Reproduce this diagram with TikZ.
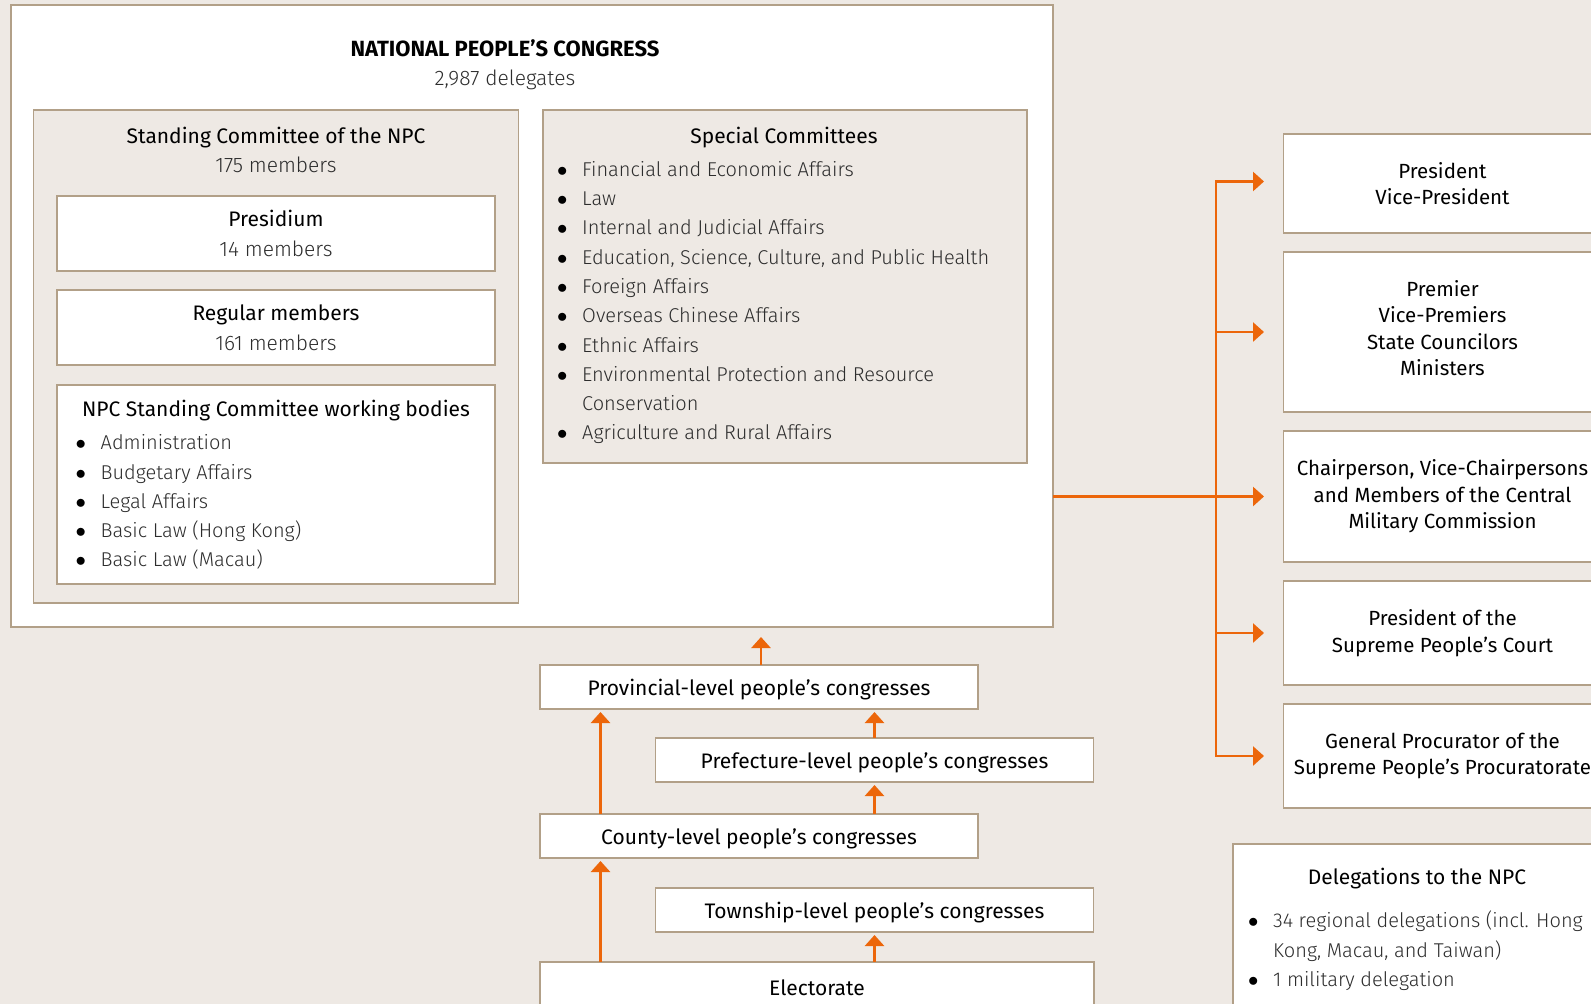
\documentclass[tikz,border=0pt]{standalone}
\usepackage{fontspec}
\setmainfont{Fira Sans}
\newfontfamily\lightfont{Fira Sans Light}
\usetikzlibrary{arrows.meta,positioning,calc}
\definecolor{pagebg}{RGB}{238,233,228}
\definecolor{boxline}{RGB}{178,160,136}
\definecolor{npcorange}{RGB}{236,102,10}
\definecolor{subgray}{RGB}{45,45,45}
\newcommand{\npcbul}{\makebox[25pt][l]{\color{black}$\bullet$}}
\newcommand{\npcind}{\hspace*{25pt}}

\begin{document}
\begin{tikzpicture}[
    x=1pt, y=-1pt,
    box/.style={rectangle, draw=boxline, line width=1.4pt, fill=white, inner sep=0pt, outer sep=0pt, anchor=north west, align=center, font=\fontsize{21}{26.5}\selectfont},
    panel/.style={box, fill=pagebg},
    lvl/.style={box, minimum width=438pt, minimum height=44pt, text height=17pt, text depth=0pt},
    rbox/.style={box, minimum width=318pt, font=\fontsize{20.5}{26.5}\selectfont},
    head/.style={font=\fontsize{21}{26}\selectfont, inner sep=0pt, anchor=base},
    sub/.style={font=\fontsize{21}{26}\selectfont\lightfont, text=subgray, inner sep=0pt, anchor=base},
    list/.style={font=\fontsize{20}{29.3}\selectfont\lightfont, text=subgray, align=left, inner sep=0pt, anchor=north west},
    arrow/.style={-{Triangle[length=11pt,width=19pt]}, draw=npcorange, line width=2.6pt}
]
    \path[use as bounding box] (0,0) rectangle (1591,1004);
    \clip (0,0) rectangle (1591,1004);
    \fill[pagebg] (0,0) rectangle (1591,1004);

    % National People's Congress
    \node[box, minimum width=1042pt, minimum height=622pt] (npc) at (11,5) {};
    \node[head, font=\fontsize{22}{26}\selectfont\bfseries] (npctitle) at (505,56) {NATIONAL PEOPLE’S CONGRESS};
    \node[sub] (npcsub) at (505,85) {2,987 delegates};

    % standing committee
    \node[panel, minimum width=485pt, minimum height=493pt] (sc) at (33.5,110) {};
    \node[head] (sctitle) at (276,143) {Standing Committee of the NPC};
    \node[sub] (scsub) at (276,172) {175 members};
    \node[box, minimum width=438pt, minimum height=75pt, font=\fontsize{21}{30.5}\selectfont] (presidium) at (57,196) {Presidium\\{\lightfont\color{subgray}14 members}};
    \node[box, minimum width=438pt, minimum height=75pt, font=\fontsize{21}{30}\selectfont] (regular) at (57,290) {Regular members\\{\lightfont\color{subgray}161 members}};
    \node[box, minimum width=438pt, minimum height=199pt] (bodies) at (57,385) {};
    \node[head] (bodiestitle) at (276,416) {NPC Standing Committee working bodies};
    \node[list] (bodieslist) at (75.5,434.5) {\npcbul Administration\\\npcbul Budgetary Affairs\\\npcbul Legal Affairs\\\npcbul Basic Law (Hong Kong)\\\npcbul Basic Law (Macau)};

    % special committees
    \node[panel, minimum width=484pt, minimum height=353pt] (special) at (543,110) {};
    \node[head] (specialtitle) at (784,143) {Special Committees};
    \node[list] (speciallist) at (557,161) {\npcbul Financial and Economic Affairs\\\npcbul Law\\\npcbul Internal and Judicial Affairs\\\npcbul Education, Science, Culture, and Public Health\\\npcbul Foreign Affairs\\\npcbul Overseas Chinese Affairs\\\npcbul Ethnic Affairs\\\npcbul Environmental Protection and Resource\\\npcind Conservation\\\npcbul Agriculture and Rural Affairs};

    % offices elected by the NPC
    \node[rbox, minimum height=99pt] (pres) at (1283.5,134) {President\\Vice-President};
    \node[rbox, minimum height=160pt, below=19pt of pres, text depth=8pt] (council) {Premier\\Vice-Premiers\\State Councilors\\Ministers};
    \node[rbox, minimum height=131pt, below=19pt of council] (cmc) {Chairperson, Vice-Chairpersons\\and Members of the Central\\Military Commission};
    \node[rbox, minimum height=104pt, below=19pt of cmc] (court) {President of the\\Supreme People’s Court};
    \node[rbox, minimum height=104pt, below=19pt of court] (procur) {General Procurator of the\\Supreme People’s Procuratorate};

    % delegations
    \node[box, minimum width=400pt, minimum height=200pt] (deleg) at (1233,844) {};
    \node[head] (delegtitle) at (1417,884) {Delegations to the NPC};
    \node[list] (deleglist) at (1248,911) {\npcbul 34 regional delegations (incl. Hong\\\npcind Kong, Macau, and Taiwan)\\\npcbul 1 military delegation};

    % people's congresses
    \node[lvl] (prov) at (540,665) {Provincial-level people’s congresses};
    \node[lvl, below=29pt of prov.south west, anchor=north west, xshift=115.5pt] (pref) {Prefecture-level people’s congresses};
    \node[lvl, below=32pt of pref.south west, anchor=north west, xshift=-115.5pt] (county) {County-level people’s congresses};
    \node[lvl, below=30pt of county.south west, anchor=north west, xshift=115.5pt] (town) {Township-level people’s congresses};
    \node[lvl, below=30pt of town.south west, anchor=north west, xshift=-115.5pt, minimum width=554pt, minimum height=49pt] (elect) {Electorate};

    \coordinate (trunk) at (1216,0);
    \coordinate (left) at (600.5,0);

    \draw[arrow, shorten >=10pt] ([xshift=2pt]prov.north) -- ([xshift=2pt]prov.north |- npc.south);
    \draw[arrow, shorten >=3pt] (left |- county.north) -- (left |- prov.south);
    \draw[arrow, shorten >=3pt] (pref.north) -- (pref.north |- prov.south);
    \draw[arrow, shorten >=3pt] (pref.south |- county.north) -- (pref.south);
    \draw[arrow, shorten >=3pt] (left |- elect.north) -- (left |- county.south);
    \draw[arrow, shorten >=3pt] (town.south |- elect.north) -- (town.south);

    \draw[arrow, shorten >=19.5pt] (trunk |- procur.west) -- ([yshift=2pt]trunk |- pres.west) -- ([yshift=2pt]pres.west);
    \draw[arrow, shorten >=19.5pt] ([yshift=2pt]trunk |- pres.west) -- (trunk |- procur.west) -- (procur.west);
    \draw[arrow, shorten >=19.5pt] (trunk |- council.west) -- (council.west);
    \draw[arrow, shorten >=19.5pt] (npc.east |- cmc.west) -- (cmc.west);
    \draw[arrow, shorten >=19.5pt] (trunk |- court.west) -- (court.west);
\end{tikzpicture}
\end{document}
